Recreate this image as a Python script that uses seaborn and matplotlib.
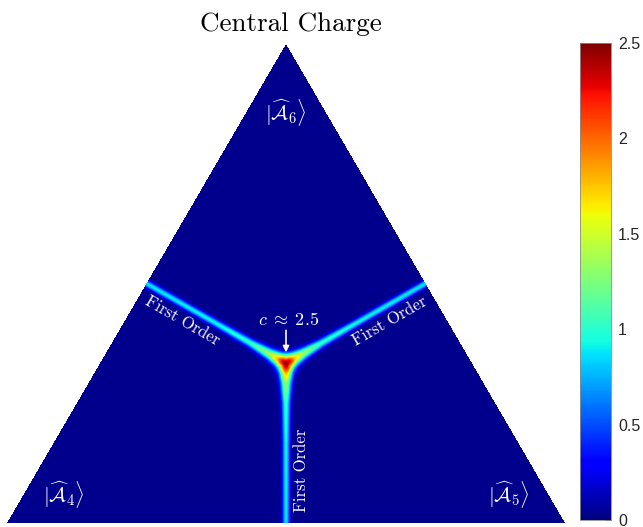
import numpy as np
import pandas as pd
import matplotlib
matplotlib.use("Agg")
import matplotlib.pyplot as plt
import seaborn as sns

# Central charge along the three first-order lines, from the triple point (0)
# out to the triangle edge (1), and the half-width of each ridge (side lengths).
ridge_frac = [0.0, 0.03, 0.06, 0.12, 0.25, 0.5, 1.0]
ridge_peak = [2.5, 2.25, 1.8, 1.35, 1.02, 0.92, 0.88]
ridge_halfwidth = [0.016, 0.0145, 0.0125, 0.0105, 0.0080, 0.0068, 0.0065]
background_c = 0.03

corner_labels = [r"$|\widehat{\mathcal{A}}_4\rangle$",
                 r"$|\widehat{\mathcal{A}}_5\rangle$",
                 r"$|\widehat{\mathcal{A}}_6\rangle$"]
line_label = "First Order"
peak_label = r"$c\;\approx\;2.5$"
cbar_ticks = [0, 0.5, 1, 1.5, 2, 2.5]
cbar_ticklabels = ["0", "0.5", "1", "1.5", "2", "2.5"]
title = "Central Charge"

sns.set_theme(style="white")
plt.rcParams["mathtext.fontset"] = "cm"
plt.rcParams["axes.formatter.use_mathtext"] = True
plt.rcParams["font.family"] = ["DejaVu Sans"]

# grid of cells, one per output pixel
W, H = 558, 479
A4 = np.array([0.0, H])
A5 = np.array([float(W), H])
A6 = np.array([W / 2.0, 0.0])
J = (A4 + A5 + A6) / 3.0
mids = [(A4 + A6) / 2.0, (A5 + A6) / 2.0, (A4 + A5) / 2.0]

xx, yy = np.meshgrid(np.arange(W) + 0.5, np.arange(H) + 0.5)
field = np.full((H, W), background_c)
for M in mids:
    vec = M - J
    L = np.hypot(*vec)
    u = vec / L
    px, py = xx - J[0], yy - J[1]
    s = px * u[0] + py * u[1]
    d = np.abs(px * u[1] - py * u[0])
    d = np.where(s < 0, np.hypot(px, py), d)
    f = np.clip(s / L, 0, 1)
    peak = np.interp(f, ridge_frac, ridge_peak)
    hw = np.interp(f, ridge_frac, ridge_halfwidth) * W
    field = np.maximum(field, peak * np.exp(-(d / hw) ** 2))

# keep only the simplex
left_edge = (W / 2.0) * (1 - yy / H)
mask = (xx < left_edge) | (xx > W - left_edge)

fig = plt.figure(figsize=(6.43, 5.27), dpi=100)
fig.patch.set_facecolor("white")
ax = fig.add_axes([7 / 643, 4 / 527, W / 643, H / 527])
cax = fig.add_axes([580 / 643, 7 / 527, 31 / 643, 477 / 527])

sns.heatmap(pd.DataFrame(field), mask=mask, cmap="jet", vmin=0, vmax=2.5,
            ax=ax, cbar_ax=cax, xticklabels=False, yticklabels=False,
            cbar_kws={"ticks": cbar_ticks})
ax.set_facecolor("white")

cb = ax.collections[0].colorbar
cb.outline.set_linewidth(0.6)
cb.outline.set_edgecolor("#8c8c8c")
cb.set_ticks(cbar_ticks)
cb.set_ticklabels(cbar_ticklabels)
cax.tick_params(axis="y", direction="in", length=4, width=0.6, color="#262626",
                labelsize=11.5, labelcolor="#262626", pad=5, right=True, left=False)
for t in cax.get_yticklabels():
    t.set_fontfamily("Liberation Sans")

serif = "cmr10"
white = "white"

# corner state labels
ax.text(A4[0] + 57, A4[1] - 28, corner_labels[0], color=white, fontsize=15,
        ha="center", va="center")
ax.text(A5[0] - 56, A5[1] - 28, corner_labels[1], color=white, fontsize=15,
        ha="center", va="center")
ax.text(A6[0], A6[1] + 68, corner_labels[2], color=white, fontsize=15,
        ha="center", va="center")

# first-order line labels, set below each slanted ridge
for M, rot, side in [(mids[0], -30, -1), (mids[1], 30, 1)]:
    vec = M - J
    L = np.hypot(*vec)
    u = vec / L
    n = np.array([-u[1], u[0]]) * side
    p = J + u * 0.69 * L + n * 14.5
    ax.text(p[0], p[1], line_label, color=white, fontsize=12, fontfamily=serif,
            rotation=rot, rotation_mode="anchor", ha="center", va="center")
vL = np.hypot(*(mids[2] - J))
pv = J + np.array([0, 1.0]) * 0.668 * vL + np.array([15.0, 0])
ax.text(pv[0], pv[1], line_label, color=white, fontsize=12, fontfamily=serif,
        rotation=90, rotation_mode="anchor", ha="center", va="center")

# triple point annotation
ax.annotate("", xy=(J[0], J[1] - 11), xytext=(J[0], J[1] - 33),
            arrowprops=dict(arrowstyle="-|>", color=white, lw=1.2,
                            mutation_scale=9, shrinkA=0, shrinkB=0))
ax.text(J[0] + 3, J[1] - 38, peak_label, color=white, fontsize=13,
        ha="center", va="baseline")

fig.text(291 / 643, 1 - 31 / 527, title, fontsize=19.5, fontfamily=serif,
         ha="center", va="baseline", color="black")

fig.savefig("out.png", dpi=100)
